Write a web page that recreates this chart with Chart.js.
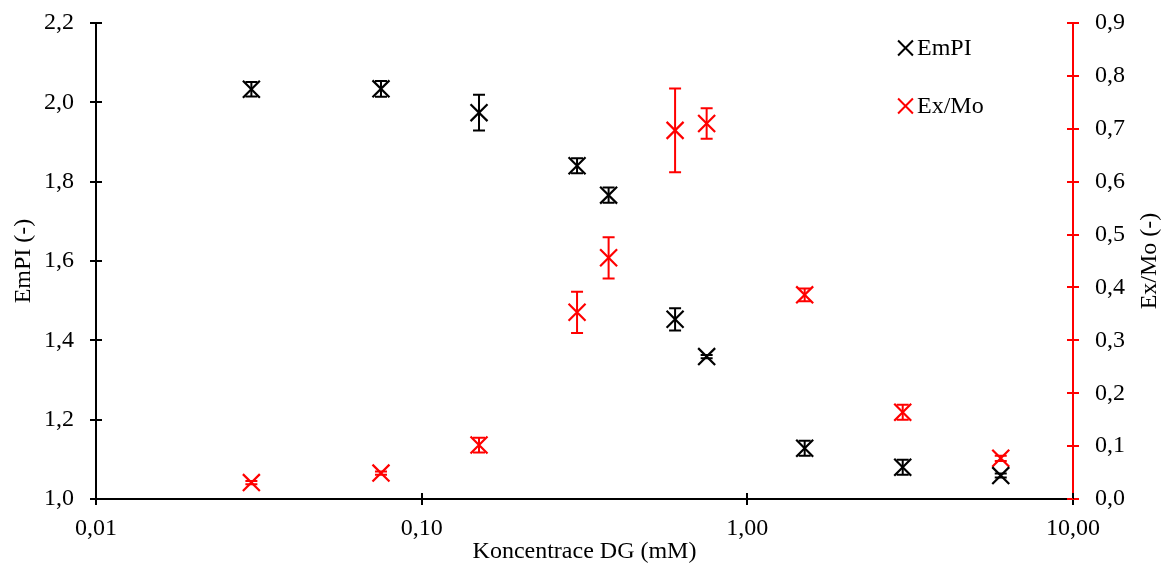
<!DOCTYPE html>
<html>
<head>
<meta charset="utf-8">
<script src="https://cdn.jsdelivr.net/npm/chart.js@4.4.1/dist/chart.umd.min.js"></script>
<style>
  html, body { margin: 0; padding: 0; background: #ffffff; }
  #wrap { width: 1166px; height: 566px; }
</style>
</head>
<body>
<div id="wrap"><canvas id="chart" width="1166" height="566"></canvas></div>
<script>
// Concentration of DG (mM) for each measurement
const concentrations = [0.03, 0.075, 0.15, 0.3, 0.375, 0.6, 0.75, 1.5, 3, 6];

// EmPI (left axis) with standard deviations
const empiValues = [2.033, 2.034, 1.974, 1.840, 1.766, 1.453, 1.359, 1.128, 1.080, 1.059];
const empiErrors = [0.018, 0.020, 0.045, 0.019, 0.019, 0.028, 0.004, 0.019, 0.019, 0.005];

// Ex/Mo (right axis) with standard deviations
const exMoValues = [0.031, 0.049, 0.102, 0.353, 0.456, 0.697, 0.710, 0.386, 0.164, 0.077];
const exMoErrors = [0.003, 0.003, 0.014, 0.039, 0.039, 0.079, 0.029, 0.012, 0.014, 0.005];

// Axis ticks
const xTickValues = [0.01, 0.1, 1, 10];
const xTickLabels = ['0,01', '0,10', '1,00', '10,00'];
const leftTickValues = [1.0, 1.2, 1.4, 1.6, 1.8, 2.0, 2.2];
const leftTickLabels = ['1,0', '1,2', '1,4', '1,6', '1,8', '2,0', '2,2'];
const rightTickValues = [0, 0.1, 0.2, 0.3, 0.4, 0.5, 0.6, 0.7, 0.8, 0.9];
const rightTickLabels = ['0,0', '0,1', '0,2', '0,3', '0,4', '0,5', '0,6', '0,7', '0,8', '0,9'];

const FONT = { family: '"Liberation Serif", "Times New Roman", serif', size: 24 };
const BLACK = '#000000';
const RED = '#ff0000';

const toPoints = (xs, ys) => xs.map((x, i) => ({ x: x, y: ys[i] }));
const labelFor = (values, labels) => (v) => {
  const i = values.findIndex(t => Math.abs(t - v) < 1e-9);
  return i >= 0 ? labels[i] : '';
};
// Vertical scales: fixed width, no extra top/bottom padding reserved for labels
const fitVertical = (width) => (s) => { s.width = width; s.paddingTop = 0; s.paddingBottom = 0; };

// Vertical error bars with caps, positioned through the chart's own scales
const errorBarPlugin = {
  id: 'errorBars',
  beforeDatasetsDraw(chart) {
    const ctx = chart.ctx;
    for (let i = chart.data.datasets.length - 1; i >= 0; i--) {
      const ds = chart.data.datasets[i];
      const meta = chart.getDatasetMeta(i);
      const xs = chart.scales[meta.xAxisID];
      const ys = chart.scales[meta.yAxisID];
      ctx.save();
      ctx.strokeStyle = ds.borderColor;
      ctx.lineWidth = 2;
      ds.data.forEach((p, j) => {
        const e = ds.errorBars[j];
        const px = xs.getPixelForValue(p.x);
        const top = ys.getPixelForValue(p.y + e);
        const bot = ys.getPixelForValue(p.y - e);
        const cap = 6;
        ctx.beginPath();
        ctx.moveTo(px, top); ctx.lineTo(px, bot);
        ctx.moveTo(px - cap, top); ctx.lineTo(px + cap, top);
        ctx.moveTo(px - cap, bot); ctx.lineTo(px + cap, bot);
        ctx.stroke();
      });
      ctx.restore();
    }
  }
};

// Tick marks that cross the axis line (inner half), right-axis title, legend
const decorPlugin = {
  id: 'decor',
  afterDraw(chart) {
    const ctx = chart.ctx;
    const area = chart.chartArea;
    const inner = 6;
    ctx.save();
    ctx.lineWidth = 2;

    const sx = chart.scales.x;
    ctx.strokeStyle = BLACK;
    sx.ticks.forEach((t, i) => {
      const px = Math.round(sx.getPixelForTick(i));
      ctx.beginPath(); ctx.moveTo(px, area.bottom); ctx.lineTo(px, area.bottom - inner); ctx.stroke();
    });
    const sy = chart.scales.y;
    sy.ticks.forEach((t, i) => {
      const py = Math.round(sy.getPixelForTick(i));
      ctx.beginPath(); ctx.moveTo(area.left, py); ctx.lineTo(area.left + inner, py); ctx.stroke();
    });
    const sy1 = chart.scales.y1;
    ctx.strokeStyle = RED;
    sy1.ticks.forEach((t, i) => {
      const py = Math.round(sy1.getPixelForTick(i));
      ctx.beginPath(); ctx.moveTo(area.right, py); ctx.lineTo(area.right - inner, py); ctx.stroke();
    });

    // Right axis title, reading bottom to top
    ctx.fillStyle = BLACK;
    ctx.font = FONT.size + 'px ' + FONT.family;
    ctx.textAlign = 'center';
    ctx.textBaseline = 'middle';
    ctx.translate(1150, (area.top + area.bottom) / 2);
    ctx.rotate(-Math.PI / 2);
    ctx.fillText('Ex/Mo (-)', 0, 0);
    ctx.restore();

    // Legend
    ctx.save();
    ctx.font = FONT.size + 'px ' + FONT.family;
    ctx.textAlign = 'left';
    ctx.textBaseline = 'middle';
    const rows = [48, 106];
    chart.data.datasets.forEach((ds, i) => {
      const y = rows[i];
      ctx.strokeStyle = ds.borderColor;
      ctx.lineWidth = 2;
      Chart.helpers.drawPoint(ctx, { pointStyle: 'crossRot', radius: 10.5, borderWidth: 2 }, 905.5, y);
      ctx.fillStyle = BLACK;
      ctx.fillText(ds.label, 917, y + 1);
    });
    ctx.restore();
  }
};

new Chart(document.getElementById('chart'), {
  type: 'scatter',
  data: {
    datasets: [
      {
        label: 'EmPI',
        data: toPoints(concentrations, empiValues),
        errorBars: empiErrors,
        yAxisID: 'y',
        borderColor: BLACK,
        backgroundColor: BLACK,
        pointStyle: 'crossRot',
        pointRadius: 12,
        pointBorderWidth: 2.2,
        pointHoverRadius: 12
      },
      {
        label: 'Ex/Mo',
        data: toPoints(concentrations, exMoValues),
        errorBars: exMoErrors,
        yAxisID: 'y1',
        borderColor: RED,
        backgroundColor: RED,
        pointStyle: 'crossRot',
        pointRadius: 12,
        pointBorderWidth: 2.2,
        pointHoverRadius: 12
      }
    ]
  },
  options: {
    responsive: false,
    animation: false,
    devicePixelRatio: 1,
    layout: { padding: { top: 23, left: 0, right: 0, bottom: 0 } },
    plugins: { legend: { display: false }, tooltip: { enabled: false } },
    scales: {
      x: {
        type: 'logarithmic',
        position: 'bottom',
        min: 0.01,
        max: 10,
        afterBuildTicks: (s) => { s.ticks = xTickValues.map(v => ({ value: v })); },
        afterFit: (s) => { s.height = 67; },
        ticks: {
          callback: labelFor(xTickValues, xTickLabels),
          autoSkip: false, maxRotation: 0, color: BLACK, font: FONT, padding: 9
        },
        grid: { drawOnChartArea: false, tickLength: 6, color: BLACK, lineWidth: 2 },
        border: { color: BLACK, width: 2 },
        title: { display: true, text: 'Koncentrace DG (mM)', color: BLACK, font: FONT, padding: { top: 0, bottom: 0 } }
      },
      y: {
        position: 'left',
        min: 1.0,
        max: 2.2,
        afterBuildTicks: (s) => { s.ticks = leftTickValues.map(v => ({ value: v })); },
        afterFit: fitVertical(96),
        ticks: { callback: labelFor(leftTickValues, leftTickLabels), color: BLACK, font: FONT, padding: 16 },
        grid: { drawOnChartArea: false, tickLength: 6, color: BLACK, lineWidth: 2 },
        border: { color: BLACK, width: 2 },
        title: { display: true, text: 'EmPI (-)', color: BLACK, font: FONT, padding: { top: 9, bottom: 0 } }
      },
      y1: {
        position: 'right',
        min: 0,
        max: 0.9,
        afterBuildTicks: (s) => { s.ticks = rightTickValues.map(v => ({ value: v })); },
        afterFit: fitVertical(93),
        ticks: { callback: labelFor(rightTickValues, rightTickLabels), color: BLACK, font: FONT, padding: 16 },
        grid: { drawOnChartArea: false, tickLength: 6, color: RED, lineWidth: 2 },
        border: { color: RED, width: 2 },
        title: { display: false }
      }
    }
  },
  plugins: [errorBarPlugin, decorPlugin]
});
</script>
</body>
</html>
